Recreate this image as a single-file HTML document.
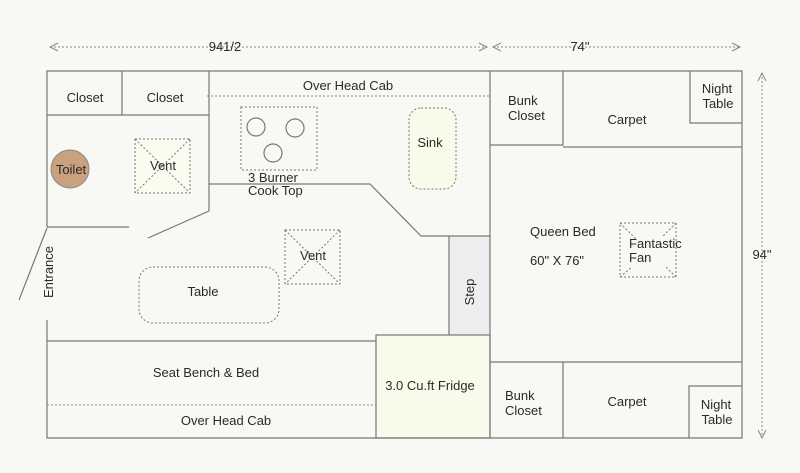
<!DOCTYPE html>
<html><head><style>
html,body{margin:0;padding:0;background:#f8f8f4;}
svg{display:block;}
text{font-family:"Liberation Sans",sans-serif;font-size:13px;fill:#2a2a2a;}
</style></head><body>
<svg width="800" height="473" viewBox="0 0 800 473" xmlns="http://www.w3.org/2000/svg">
<rect width="800" height="473" fill="#f8f8f4"/>
<g stroke="#888" stroke-width="1" fill="none" stroke-dasharray="2,2">
<line x1="50" y1="47" x2="487" y2="47"/>
<line x1="493" y1="47" x2="740" y2="47"/>
<line x1="762" y1="73" x2="762" y2="438"/>
<line x1="207" y1="96" x2="489" y2="96"/>
<line x1="47" y1="405" x2="376" y2="405"/>
</g>
<g stroke="#888" stroke-width="1" fill="none">
<polyline points="58,43 50,47 58,51"/><polyline points="479,43 487,47 479,51"/>
<polyline points="501,43 493,47 501,51"/><polyline points="732,43 740,47 732,51"/>
<polyline points="758,81 762,73 766,81"/><polyline points="758,430 762,438 766,430"/>
</g>
<rect x="449" y="236" width="41" height="99" fill="#eceef0"/>
<rect x="376" y="335" width="114" height="103" fill="#fafaea"/>
<g stroke="#777" stroke-width="1.2" fill="none">
<polyline points="47,227 47,71 742,71 742,438 47,438 47,320"/>
<line x1="490" y1="71" x2="490" y2="438"/>
<line x1="47" y1="115" x2="209" y2="115"/>
<line x1="122" y1="71" x2="122" y2="115"/>
<line x1="209" y1="71" x2="209" y2="211"/>
<polyline points="209,184 370,184 421,236 490,236"/>
<line x1="47" y1="227" x2="129" y2="227"/>
<line x1="148" y1="238" x2="209" y2="211"/>
<line x1="47" y1="228" x2="19" y2="300"/>
<line x1="449" y1="236" x2="449" y2="335"/>
<line x1="47" y1="341" x2="376" y2="341"/>
<rect x="376" y="335" width="114" height="103"/>
<polyline points="490,145 563,145 563,71"/>
<polyline points="563,147 742,147"/>
<polyline points="690,71 690,123 742,123"/>
<line x1="490" y1="362" x2="742" y2="362"/>
<line x1="563" y1="362" x2="563" y2="438"/>
<polyline points="689,438 689,386 742,386"/>
<circle cx="256" cy="127" r="9"/><circle cx="295" cy="128" r="9"/><circle cx="273" cy="153" r="9"/>
</g>
<circle cx="70" cy="169" r="19" fill="#c9a17e" stroke="#888"/>
<g stroke="#777" stroke-width="1" fill="none" stroke-dasharray="2,2">
<rect x="135" y="139" width="55" height="54" fill="#fbfbf0"/>
<line x1="135" y1="139" x2="190" y2="193"/><line x1="190" y1="139" x2="135" y2="193"/>
<rect x="285" y="230" width="55" height="54"/>
<line x1="285" y1="230" x2="340" y2="284"/><line x1="340" y1="230" x2="285" y2="284"/>
<rect x="241" y="107" width="76" height="63"/>
<rect x="409" y="108" width="47" height="81" rx="12" fill="#fafaea"/>
<rect x="139" y="267" width="140" height="56" rx="14"/>
<rect x="620" y="223" width="56" height="54"/>
<line x1="620" y1="223" x2="636" y2="239"/><line x1="676" y1="223" x2="662" y2="237"/>
<line x1="620" y1="277" x2="632" y2="267"/><line x1="676" y1="277" x2="665" y2="266"/>
</g>
<text x="225" y="51" text-anchor="middle" font-size="12">941/2</text>
<text x="580" y="51" text-anchor="middle" font-size="12">74"</text>
<text x="762" y="259" text-anchor="middle" font-size="12">94"</text>
<text x="85" y="102" text-anchor="middle">Closet</text>
<text x="165" y="102" text-anchor="middle">Closet</text>
<text x="348" y="90" text-anchor="middle">Over Head Cab</text>
<text x="71" y="174" text-anchor="middle">Toilet</text>
<text x="163" y="170" text-anchor="middle">Vent</text>
<text x="248" y="182">3 Burner</text>
<text x="248" y="195">Cook Top</text>
<text x="430" y="147" text-anchor="middle">Sink</text>
<text x="313" y="260" text-anchor="middle">Vent</text>
<text x="203" y="296" text-anchor="middle">Table</text>
<text transform="translate(53,272) rotate(-90)" text-anchor="middle">Entrance</text>
<text transform="translate(474,292) rotate(-90)" text-anchor="middle">Step</text>
<text x="206" y="377" text-anchor="middle">Seat Bench &amp; Bed</text>
<text x="226" y="425" text-anchor="middle">Over Head Cab</text>
<text x="430" y="390" text-anchor="middle">3.0 Cu.ft Fridge</text>
<text x="508" y="105">Bunk</text><text x="508" y="120">Closet</text>
<text x="627" y="124" text-anchor="middle">Carpet</text>
<text x="717" y="93" text-anchor="middle">Night</text><text x="718" y="108" text-anchor="middle">Table</text>
<text x="530" y="236">Queen Bed</text>
<text x="530" y="265">60" X 76"</text>
<text x="629" y="248">Fantastic</text><text x="629" y="262">Fan</text>
<text x="505" y="400">Bunk</text><text x="505" y="415">Closet</text>
<text x="627" y="406" text-anchor="middle">Carpet</text>
<text x="716" y="409" text-anchor="middle">Night</text><text x="717" y="424" text-anchor="middle">Table</text>
</svg>
</body></html>
